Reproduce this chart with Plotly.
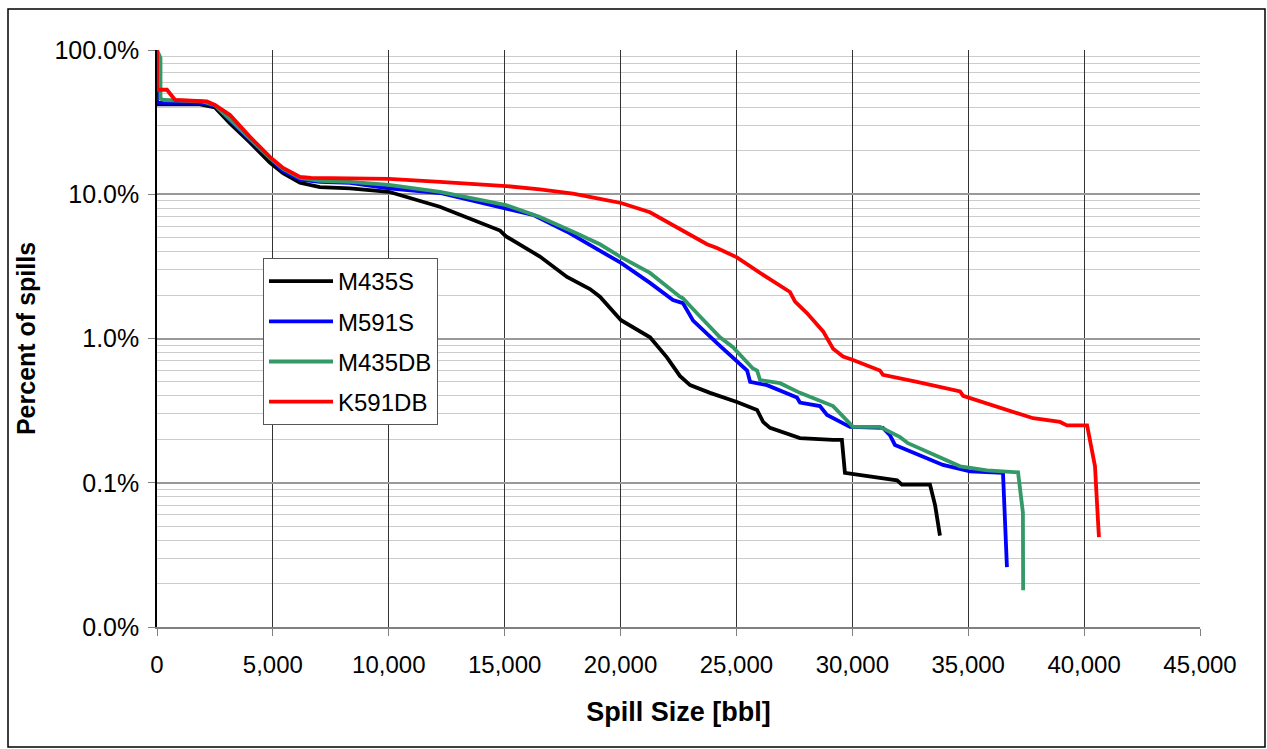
import plotly.graph_objects as go

# ---- data (spill size in bbl, percent of spills) ----
m435s_x = [0, 0, 1850, 2500, 3150, 4000, 4880, 5440, 6170, 7030, 8330, 10000, 12200, 14800, 15060,
           16520, 17690, 18680, 19110, 20020, 21270, 22000, 22560, 23000, 23860, 25020, 25890, 26150,
           26450, 27740, 29170, 29550, 29680, 31190, 31930, 32140, 33350, 33570, 33780]
m435s_y = [100, 42, 42, 40, 31, 23, 16.5, 14, 12, 11.2, 11, 10.4, 8.2, 5.6, 5.1,
           3.7, 2.67, 2.2, 1.95, 1.34, 1.02, 0.74, 0.55, 0.475, 0.42, 0.363, 0.32, 0.264,
           0.24, 0.204, 0.198, 0.198, 0.117, 0.108, 0.104, 0.097, 0.097, 0.070, 0.043]

m591s_x = [0, 0, 1900, 2500, 3150, 4010, 4880, 5440, 6170, 7030, 8330, 10000, 12210, 15060, 16220,
           17690, 19110, 20020, 21270, 22260, 22690, 23130, 24160, 25020, 25460, 25590, 26320, 27610,
           27740, 28600, 28910, 29900, 31320, 31620, 31840, 33910, 35080, 36500, 36590, 36670]
m591s_y = [100, 43, 43, 41, 32.5, 24, 17.3, 14.5, 12.6, 12.2, 12, 11.0, 10.2, 8.0, 7.2,
           5.5, 4.1, 3.34, 2.43, 1.85, 1.76, 1.33, 0.93, 0.70, 0.60, 0.50, 0.475, 0.39,
           0.36, 0.34, 0.295, 0.244, 0.24, 0.214, 0.183, 0.133, 0.12, 0.117, 0.053, 0.026]

m435db_x = [0, 150, 150, 300, 1950, 2500, 3150, 4010, 4880, 5440, 6170, 7030, 8330, 10000, 12210,
            15060, 16520, 17950, 19110, 20020, 21270, 22560, 22690, 23430, 24290, 24850, 25150, 25710,
            25890, 26020, 26880, 27740, 29170, 30030, 31190, 31500, 32060, 32400, 34650, 35810, 37150,
            37360, 37370]
m435db_y = [100, 88, 46, 45, 44, 41.5, 33, 24.5, 17.8, 15, 13, 12.4, 12.2, 11.6, 10.4,
            8.4, 6.95, 5.49, 4.5, 3.67, 2.85, 1.95, 1.9, 1.42, 1.02, 0.87, 0.77, 0.62,
            0.60, 0.515, 0.49, 0.42, 0.34, 0.244, 0.244, 0.23, 0.207, 0.188, 0.13, 0.122, 0.118,
            0.062, 0.018]

k591db_x = [0, 0, 430, 550, 780, 2150, 2500, 3150, 4010, 4880, 5440, 6170, 6650, 8300, 10000,
            12210, 15060, 16520, 17950, 19110, 20020, 21270, 22260, 22690, 23730, 24160, 25020, 26320,
            27310, 27530, 28040, 28740, 29170, 29600, 30030, 31190, 31320, 32790, 33910, 34650, 34780,
            37800, 38960, 39260, 40130, 40470, 40600, 40640]
k591db_y = [100, 53, 53, 50, 45, 44, 41.6, 35.4, 25, 18.1, 15.2, 13.2, 13, 12.9, 12.8,
            12.2, 11.4, 10.8, 10.1, 9.3, 8.7, 7.5, 6.1, 5.5, 4.5, 4.24, 3.65, 2.65,
            2.1, 1.8, 1.5, 1.12, 0.85, 0.75, 0.71, 0.6, 0.56, 0.50, 0.46, 0.43, 0.40,
            0.28, 0.264, 0.25, 0.25, 0.13, 0.054, 0.042]

series = [
    ("M435S", m435s_x, m435s_y, "#000000"),
    ("M591S", m591s_x, m591s_y, "#0000FF"),
    ("M435DB", m435db_x, m435db_y, "#339966"),
    ("K591DB", k591db_x, k591db_y, "#FF0000"),
]

y_tick_vals = [0.01, 0.1, 1, 10, 100]
y_tick_text = ["0.0%", "0.1%", "1.0%", "10.0%", "100.0%"]
y_minor_vals = [m * 10 ** k for k in (-2, -1, 0, 1) for m in range(2, 10)]

FONT = "Liberation Sans, Arial, sans-serif"

fig = go.Figure()
for i, (name, xs, ys, col) in enumerate(series):
    fig.add_trace(go.Scatter(x=xs, y=ys, mode="lines", name=name, legendgroup=f"g{i}",
                             line=dict(color=col, width=3.8)))

W, H = 1267, 749
L, R, T, B = 157, 67, 50, 122
pw, ph = W - L - R, H - T - B

fig.update_layout(
    width=W, height=H,
    margin=dict(l=L, r=R, t=T, b=B),
    paper_bgcolor="white", plot_bgcolor="white",
    font=dict(family=FONT, size=24, color="black"),
    showlegend=True,
    legend=dict(
        x=(263 - L) / pw, y=(H - B - 258) / ph, xanchor="left", yanchor="top",
        bgcolor="white", bordercolor="#555555", borderwidth=1,
        font=dict(family=FONT, size=24, color="black"),
        tracegroupgap=6, itemwidth=64,
    ),
    shapes=[dict(type="rect", xref="paper", yref="paper",
                 x0=(8 - L) / pw, x1=(1265 - L) / pw,
                 y0=(H - B - 747) / ph, y1=(H - B - 9) / ph,
                 line=dict(color="black", width=1.5), fillcolor="rgba(0,0,0,0)",
                 layer="below")],
)

fig.update_xaxes(
    range=[0, 45000], dtick=5000, tick0=0, tickformat=",d",
    showgrid=True, gridcolor="#333333", gridwidth=1,
    showline=True, linecolor="#808080", linewidth=1.5,
    ticks="outside", ticklen=7, tickcolor="#808080",
    ticklabelstandoff=8,
    zeroline=False,
    title=dict(text="<b>Spill Size [bbl]</b>", font=dict(family=FONT, size=27), standoff=26),
    automargin=False,
    tickfont=dict(family=FONT, size=24),
)
fig.update_yaxes(
    type="log", range=[-2, 2],
    tickmode="array", tickvals=y_tick_vals, ticktext=y_tick_text,
    showgrid=True, gridcolor="#999999", gridwidth=1.5,
    minor=dict(tickmode="array", tickvals=y_minor_vals, showgrid=True,
               gridcolor="#cccccc", gridwidth=1, ticks=""),
    showline=True, linecolor="black", linewidth=1.5,
    ticks="outside", ticklen=7, tickcolor="#808080",
    ticklabelstandoff=4,
    zeroline=False,
    title=dict(text="<b>Percent of spills</b>", font=dict(family=FONT, size=25), standoff=12),
    automargin=False,
    tickfont=dict(family=FONT, size=25),
)

fig.write_html("out.html")
